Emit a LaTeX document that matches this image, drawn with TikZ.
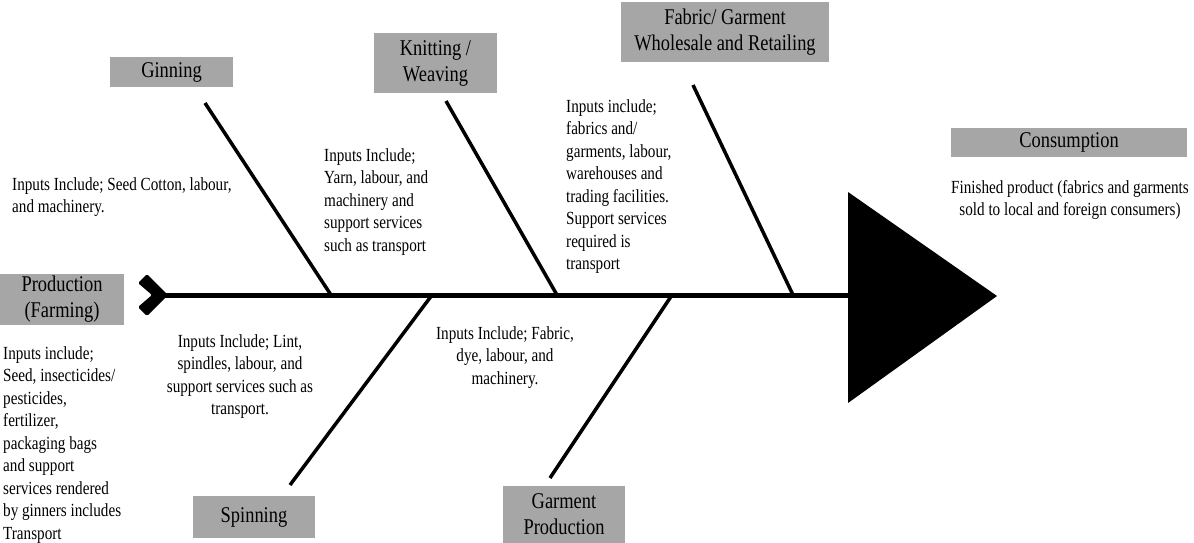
\documentclass[tikz,border=0pt]{standalone}
\usepackage{fontspec}
\setmainfont[FakeStretch=0.82]{Liberation Serif}
\definecolor{boxgray}{HTML}{A6A6A6}
\begin{document}
\begin{tikzpicture}[x=1pt,y=-1pt,
  box/.style={fill=boxgray, inner sep=0pt, font=\fontsize{22.5}{26}\selectfont, align=center},
  txt/.style={inner sep=0pt, font=\fontsize{18.5}{22.5}\selectfont},
  bone/.style={line width=3.5pt},
  spine/.style={line width=5pt}]
\useasboundingbox (0,0) rectangle (1194,543);

% boxes
\node[box, minimum width=124pt, minimum height=51pt] (prod) at (62,299.5) {Production\\(Farming)};
\node[box, minimum width=123pt, minimum height=30pt] (gin) at (171.5,72) {Ginning};
\node[box, minimum width=123pt, minimum height=60pt] (knit) at (435.5,63) {Knitting /\\Weaving};
\node[box, minimum width=208pt, minimum height=60pt] (fab) at (725,32) {Fabric/ Garment\\Wholesale and Retailing};
\node[box, minimum width=236pt, minimum height=29pt] (cons) at (1069,142.5) {Consumption};
\node[box, minimum width=122pt, minimum height=42pt] (spin) at (254,517) {Spinning};
\node[box, minimum width=122pt, minimum height=57pt] (garm) at (564,514.5) {Garment\\Production};

% fish skeleton
\coordinate (tail) at (160,295);
\coordinate (head) at (850,295);
\draw[spine] (tail) -- (head);
\fill[rounded corners=1.5pt] (168,295) -- (147,274) -- (138,283) -- (152,295) -- (138,307) -- (147,316) -- cycle;
\fill (848,192) -- (997,296) -- (848,403) -- cycle;

\coordinate (sg) at (331,295);
\coordinate (sk) at (557,295);
\coordinate (sf) at (793,295);
\coordinate (ss) at (432,295);
\coordinate (sm) at (672,295);
\coordinate (eg) at (205,103);
\coordinate (ek) at (446,101);
\coordinate (ef) at (693,85);
\coordinate (es) at (290,485);
\coordinate (em) at (550,478);
\draw[bone] (eg) -- (sg);
\draw[bone] (ek) -- (sk);
\draw[bone] (ef) -- (sf);
\draw[bone] (es) -- (ss);
\draw[bone] (em) -- (sm);

% texts
\node[txt, anchor=north west, align=left] (t1) at (12,177) {Inputs Include; Seed Cotton, labour,\\and machinery.};
\node[txt, anchor=north west, align=left] (t2) at (324,148) {Inputs Include;\\Yarn, labour, and\\machinery and\\support services\\such as transport};
\node[txt, anchor=north west, align=left] (t3) at (566,99) {Inputs include;\\fabrics and/\\garments, labour,\\warehouses and\\trading facilities.\\Support services\\required is\\transport};
\node[txt, anchor=north, align=center] (t4) at (1070,180) {Finished product (fabrics and garments\\sold to local and foreign consumers)};
\node[txt, anchor=north, align=center] (t5) at (240,334) {Inputs Include; Lint,\\spindles, labour, and\\support services such as\\transport.};
\node[txt, anchor=north, align=center] (t6) at (505,326) {Inputs Include; Fabric,\\dye, labour, and\\machinery.};
\node[txt, anchor=north west, align=left] (t7) at (3,346) {Inputs include;\\Seed, insecticides/\\pesticides,\\fertilizer,\\packaging bags\\and support\\services rendered\\by ginners includes\\Transport};
\end{tikzpicture}
\end{document}
